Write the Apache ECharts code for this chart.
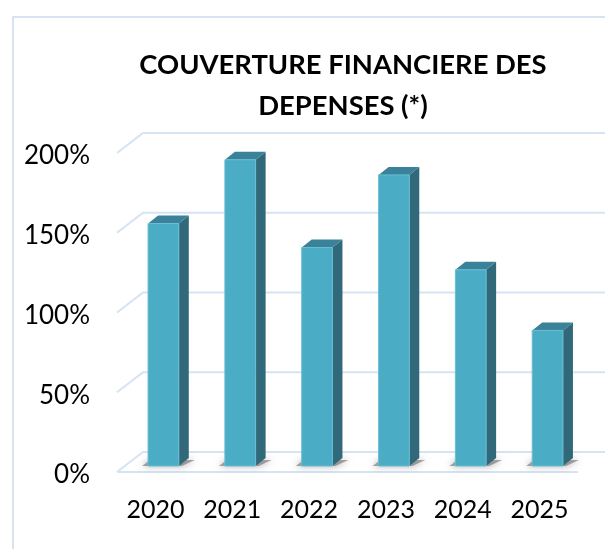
<!DOCTYPE html>
<html>
<head>
<meta charset="utf-8">
<style>
  html, body { margin: 0; padding: 0; background: #fff; }
  #chart { width: 605px; height: 549px; }
</style>
</head>
<body>
<div id="chart"></div>
<script src="https://cdn.jsdelivr.net/npm/echarts@6/dist/echarts.min.js"></script>
<script>
var years = ["2020", "2021", "2022", "2023", "2024", "2025"];
var couverture = [152, 192, 137, 182.5, 123, 85];
var yTicks = [0, 50, 100, 150, 200];

// fake 3D depth, in pixels
var wallDx = 26, wallDy = 20;
var barShiftX = 8, barShiftY = 6;
var barDx = 10, barDy = 8;

var myChart = echarts.init(document.getElementById("chart"));

function renderWall(params, api) {
  var p = api.coord([0, api.value(0)]);
  var grid = params.coordSys;
  var left = grid.x;
  var right = grid.x + grid.width;
  var lineStyle = { stroke: "#d6e3f3", lineWidth: 2, fill: null };
  var children = [
    {
      type: "polyline",
      shape: { points: [[left, p[1]], [left + wallDx, p[1] - wallDy], [605, p[1] - wallDy]] },
      style: lineStyle
    }
  ];
  // floor front edge
  if (api.value(0) === 0) {
    children.push({
      type: "line",
      shape: { x1: left, y1: p[1], x2: right, y2: p[1] },
      style: lineStyle
    });
  }
  return { type: "group", children: children };
}

function renderBar(params, api) {
  var top = api.coord([api.value(0), api.value(1)]);
  var base = api.coord([api.value(0), 0]);
  var w = api.size([1, 0])[0] * 0.4;
  var x0 = top[0] - w / 2 + barShiftX;
  var x1 = x0 + w;
  var yt = top[1] - barShiftY;
  var yb = base[1] - barShiftY;
  return {
    type: "group",
    children: [
      {
        type: "polygon",
        shape: { points: [[x0 - 6, yb], [x1 + 3, yb], [x1 + 16, yb - 6], [x0 + 2, yb - 6]] },
        style: { fill: "rgba(110,110,110,0.6)", shadowBlur: 7, shadowColor: "rgba(90,90,90,0.9)" }
      },
      {
        type: "polygon",
        shape: { points: [[x1, yt], [x1 + barDx, yt - barDy], [x1 + barDx, yb - barDy], [x1, yb]] },
        style: { fill: "#31697a" }
      },
      {
        type: "polygon",
        shape: { points: [[x0, yt], [x0 + barDx, yt - barDy], [x1 + barDx, yt - barDy], [x1, yt]] },
        style: { fill: "#3a8299" }
      },
      {
        type: "rect",
        shape: { x: x0, y: yt, width: w, height: yb - yt },
        style: { fill: "#4bacc6", stroke: "#6bbdd2", lineWidth: 1 }
      }
    ]
  };
}

var option = {
  animation: false,
  backgroundColor: "#ffffff",
  textStyle: { fontFamily: "Lato" },
  title: {
    text: "COUVERTURE FINANCIERE DES\nDEPENSES (*)",
    left: 338,
    top: 40,
    textAlign: "center",
    textStyle: { fontFamily: "Lato", fontWeight: "bold", fontSize: 27.4, lineHeight: 41, color: "#000000" }
  },
  graphic: [
    {
      type: "polyline",
      shape: { points: [[13, 560], [13, 17], [610, 17]] },
      style: { stroke: "#d6e3f3", lineWidth: 2, fill: null }
    }
  ],
  grid: { left: 117, top: 153, width: 461, height: 319 },
  xAxis: {
    type: "category",
    data: years,
    axisLine: { show: false },
    axisTick: { show: false },
    axisLabel: { color: "#000000", fontFamily: "Lato", fontSize: 25, margin: 25 }
  },
  yAxis: {
    type: "value",
    min: 0,
    max: 200,
    interval: 50,
    axisLine: { show: false },
    axisTick: { show: false },
    splitLine: { show: false },
    axisLabel: {
      margin: 27,
      formatter: "{p|{value}%}",
      rich: {
        p: { color: "#000000", fontFamily: "Lato", fontSize: 26, padding: [6, 0, 0, 0] }
      }
    }
  },
  series: [
    {
      name: "grille",
      type: "custom",
      renderItem: renderWall,
      encode: { y: 0 },
      data: yTicks.map(function(t) { return [t]; }),
      silent: true,
      z: 1
    },
    {
      name: "Couverture",
      type: "custom",
      renderItem: renderBar,
      encode: { x: 0, y: 1 },
      data: couverture.map(function(v, i) { return [i, v]; }),
      z: 2
    }
  ]
};
myChart.setOption(option);
</script>
</body>
</html>
